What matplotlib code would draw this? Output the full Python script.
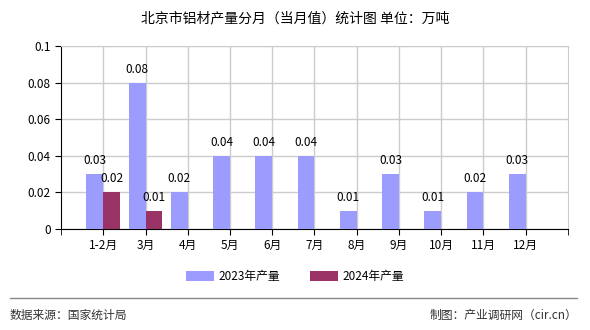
import matplotlib
matplotlib.use("Agg")
import matplotlib.pyplot as plt
import numpy as np
from matplotlib.lines import Line2D

plt.rcParams['font.family'] = ['Noto Sans CJK SC', 'DejaVu Sans']

# data
months = ['1-2月', '3月', '4月', '5月', '6月', '7月', '8月', '9月', '10月', '11月', '12月']
prod_2023 = [0.03, 0.08, 0.02, 0.04, 0.04, 0.04, 0.01, 0.03, 0.01, 0.02, 0.03]
prod_2024 = [0.02, 0.01]
series_names = ['2023年产量', '2024年产量']

c2023 = '#9c9cff'
c2024 = '#993366'

fig = plt.figure(figsize=(5.9, 3.3), dpi=100)
ax = fig.add_axes([0.1034, 0.306, 0.8593, 0.555])

x = np.arange(len(months))
w = 0.4
b1 = ax.bar(x - w / 2, prod_2023, width=w, color=c2023, label=series_names[0], zorder=3)
b2 = ax.bar(x[:len(prod_2024)] + w / 2, prod_2024, width=w, color=c2024, label=series_names[1], zorder=3)

# value labels over the bars
for bars, vals in ((b1, prod_2023), (b2, prod_2024)):
    for r, v in zip(bars, vals):
        ax.annotate(f'{v:.2f}', (r.get_x() + r.get_width() / 2, v), xytext=(0, 5),
                    textcoords='offset points', ha='center', va='bottom', fontsize=8.5)

ax.set_xlim(-1, len(months))
ax.set_ylim(0, 0.1)
ax.set_yticks([0, 0.02, 0.04, 0.06, 0.08, 0.1])
ax.set_yticklabels(['0', '0.02', '0.04', '0.06', '0.08', '0.1'])
ax.set_xticks(x)
ax.set_xticklabels(months)
ax.set_xticks([-1, len(months)], minor=True)
ax.tick_params(axis='both', labelsize=8.5, length=4, direction='out', color='black')
ax.tick_params(axis='x', which='minor', length=4)
ax.grid(True, color='#cccccc', lw=1, zorder=0)
ax.set_axisbelow(True)
for s in ('top', 'right'):
    ax.spines[s].set_color('#cccccc')
for s in ('left', 'bottom'):
    ax.spines[s].set_color('black')

fig.text(0.5, 0.945, '北京市铝材产量分月（当月值）统计图 单位：万吨', ha='center', va='center', fontsize=10)

fig.legend(handles=[b1, b2], loc='center', bbox_to_anchor=(0.5, 0.163), ncol=2, frameon=False,
           fontsize=8.5, handlelength=2.4, handleheight=0.9, columnspacing=2.5, handletextpad=0.4)

fig.add_artist(Line2D([10 / 590, 577 / 590], [0.097, 0.097], color='#888888', lw=1, transform=fig.transFigure))
fig.text(10 / 590, 0.045, '数据来源：国家统计局', ha='left', va='center', fontsize=8.5, color='#333333')
fig.text(577 / 590, 0.045, '制图：产业调研网（cir.cn）', ha='right', va='center', fontsize=8.5, color='#333333')

fig.savefig('out.png', dpi=100, facecolor='white')
